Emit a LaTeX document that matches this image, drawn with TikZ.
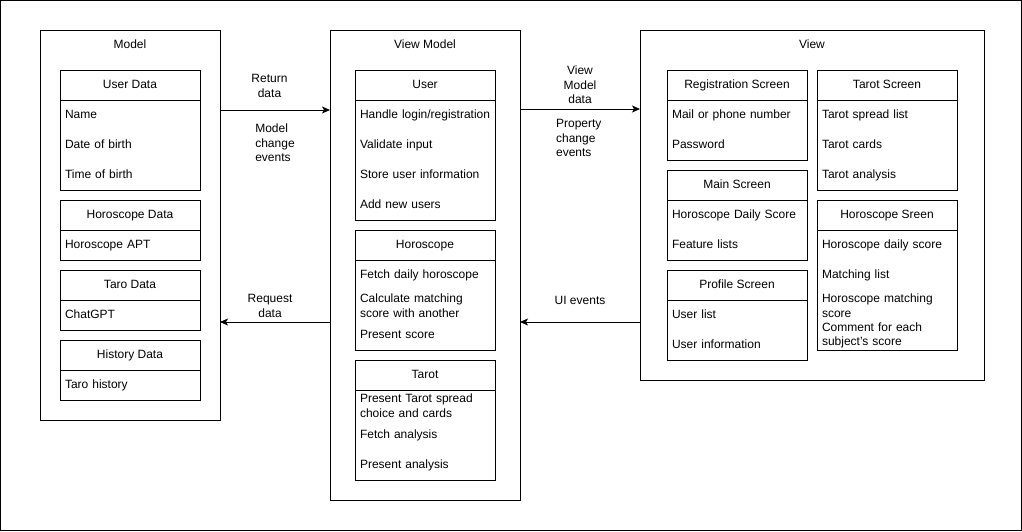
\documentclass[tikz,border=0pt]{standalone}
\usepackage{fontspec}
\setmainfont{Liberation Sans}
\usetikzlibrary{arrows.meta,positioning,fit}
\newcommand{\rowstrut}{\rule[-2.4pt]{0pt}{12.4pt}}

\begin{document}
\begin{tikzpicture}[x=1pt, y=-1pt, line width=1pt,
    every node/.style={font=\fontsize{12}{14.4}\selectfont, inner sep=0pt, outer sep=0pt},
    layer/.style={draw, anchor=north west},
    ttl/.style={anchor=center},
    hdr/.style={draw, anchor=north west, minimum width=140, minimum height=30, align=center, execute at begin node=\rowstrut},
    row/.style={below=0pt of #1, minimum height=30, text width=130, inner xsep=5pt, align=left, execute at begin node=\rowstrut},
    box/.style={draw, fit=#1},
    flow/.style={-{Stealth[length=8pt, width=7pt, inset=2pt]}},
    lbl/.style={align=center}]
    \useasboundingbox (0,0) rectangle (1022,531);
    \node[layer, minimum width=1021, minimum height=530] (page) at (0.5,0.5) {};

    \node[layer, minimum width=180, minimum height=390] (model) at (40,30) {};
    \node[ttl] (modelt) at ([yshift=-14pt]model.north) {Model};
    \node[layer, minimum width=190, minimum height=470] (vm) at (330,30) {};
    \node[ttl] (vmt) at ([yshift=-14pt]vm.north) {View Model};
    \node[layer, minimum width=344, minimum height=350] (view) at (640,30) {};
    \node[ttl] (viewt) at ([yshift=-14pt]view.north) {View};

    \node[hdr] (ud) at (60,70) {User Data};
    \node[row=ud] (ud1) {Name};
    \node[row=ud1] (ud2) {Date of birth};
    \node[row=ud2] (ud3) {Time of birth};
    \node[box=(ud)(ud3)] (udbox) {};
    \node[hdr] (hd) at (60,200) {Horoscope Data};
    \node[row=hd] (hd1) {Horoscope APT};
    \node[box=(hd)(hd1)] (hdbox) {};
    \node[hdr] (td) at (60,270) {Taro Data};
    \node[row=td] (td1) {ChatGPT};
    \node[box=(td)(td1)] (tdbox) {};
    \node[hdr] (hist) at (60,340) {History Data};
    \node[row=hist] (hist1) {Taro history};
    \node[box=(hist)(hist1)] (histbox) {};

    \node[hdr] (us) at (355,70) {User};
    \node[row=us] (us1) {\mbox{Handle login/registration}};
    \node[row=us1] (us2) {Validate input};
    \node[row=us2] (us3) {Store user information};
    \node[row=us3] (us4) {Add new users};
    \node[box=(us)(us4)] (usbox) {};
    \node[hdr] (ho) at (355,230) {Horoscope};
    \node[row=ho] (ho1) {Fetch daily horoscope};
    \node[row=ho1] (ho2) {Calculate matching\\score with another};
    \node[row=ho2] (ho3) {Present score};
    \node[box=(ho)(ho3)] (hobox) {};
    \node[hdr] (ta) at (355,360) {Tarot};
    \node[row=ta] (ta1) {Present Tarot spread\\choice and cards};
    \node[row=ta1] (ta2) {Fetch analysis};
    \node[row=ta2] (ta3) {Present analysis};
    \node[box=(ta)(ta3)] (tabox) {};

    \node[hdr] (reg) at (667,70) {Registration Screen};
    \node[row=reg] (reg1) {Mail or phone number};
    \node[row=reg1] (reg2) {Password};
    \node[box=(reg)(reg2)] (regbox) {};
    \node[hdr] (main) at (667,170) {Main Screen};
    \node[row=main] (main1) {Horoscope Daily Score};
    \node[row=main1] (main2) {Feature lists};
    \node[box=(main)(main2)] (mainbox) {};
    \node[hdr] (prof) at (667,270) {Profile Screen};
    \node[row=prof] (prof1) {User list};
    \node[row=prof1] (prof2) {User information};
    \node[box=(prof)(prof2)] (profbox) {};
    \node[hdr] (tas) at (817,70) {Tarot Screen};
    \node[row=tas] (tas1) {Tarot spread list};
    \node[row=tas1] (tas2) {Tarot cards};
    \node[row=tas2] (tas3) {Tarot analysis};
    \node[box=(tas)(tas3)] (tasbox) {};
    \node[hdr] (hos) at (817,200) {Horoscope Sreen};
    \node[row=hos] (hos1) {Horoscope daily score};
    \node[row=hos1] (hos2) {Matching list};
    \node[row=hos2] (hos3) {Horoscope matching\\score};
    \node[row=hos3] (hos4) {Comment for each\\subject's score};
    \node[box=(hos)(hos4)] (hosbox) {};

    \draw[flow] ([yshift=-80pt]model.north east) -- node[lbl, pos=0.45, yshift=24pt] (ret) {Return\\data} node[lbl, align=left, pos=0.5, yshift=-33pt] (mce) {Model\\change\\events} ([yshift=-80pt]vm.north west);
    \draw[flow] ([yshift=-292pt]vm.north west) -- node[lbl, pos=0.545, yshift=16pt] (req) {Request\\data} ([yshift=-292pt]model.north east);
    \draw[flow] ([yshift=-79pt]vm.north east) -- node[lbl, yshift=24pt] (vmd) {View\\Model\\data} node[lbl, align=left, pos=0.49, yshift=-29pt] (pce) {Property\\change\\events} ([yshift=-79pt]view.north west);
    \draw[flow] ([yshift=-292pt]view.north west) -- node[lbl, yshift=22pt] (uie) {UI events} ([yshift=-292pt]vm.north east);
\end{tikzpicture}
\end{document}
